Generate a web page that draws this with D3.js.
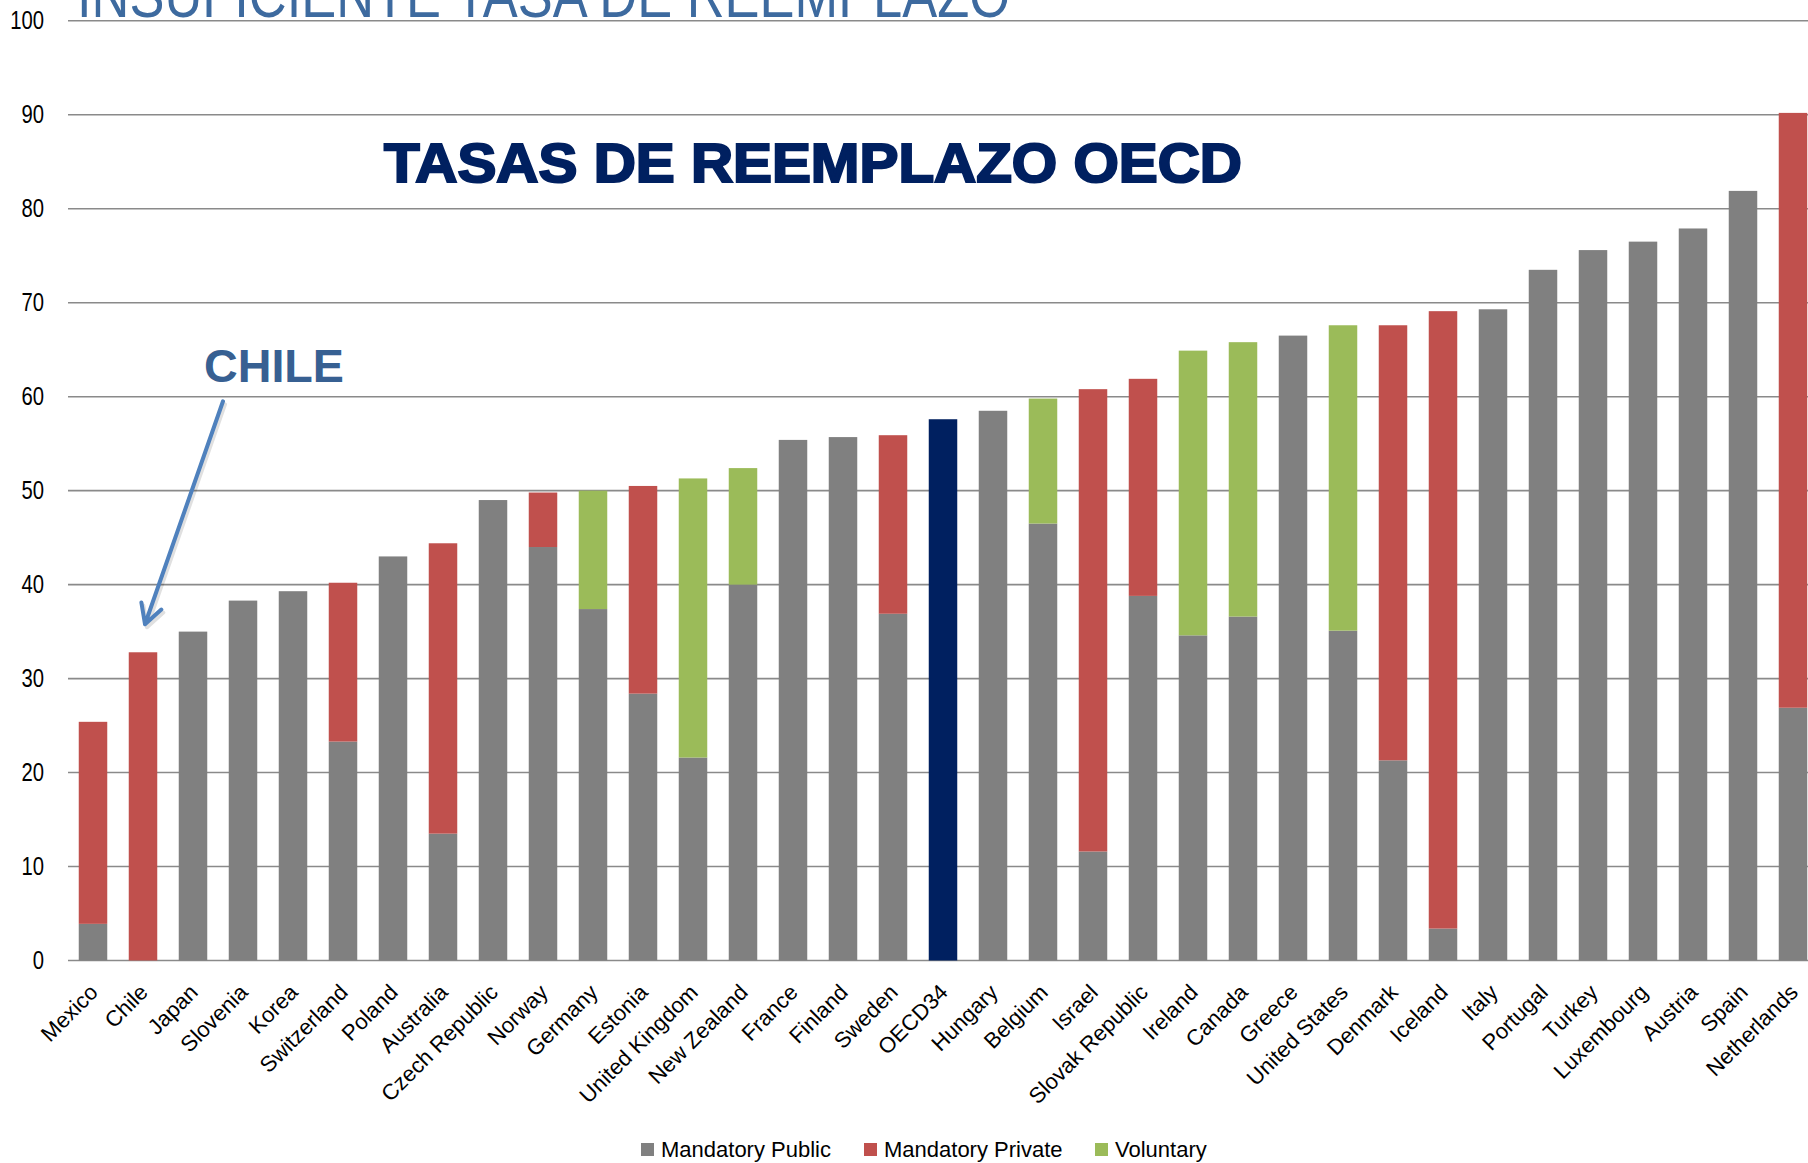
<!DOCTYPE html>
<html>
<head>
<meta charset="utf-8">
<script src="https://cdn.jsdelivr.net/npm/d3@7"></script>
<style>
  html, body { margin: 0; padding: 0; background: #fff; overflow: hidden; }
  svg { display: block; }
  text { font-family: "Liberation Sans", Arial, sans-serif; }
</style>
</head>
<body>
<script>
// ---------------- DATA ----------------
const categories = ["Mexico","Chile","Japan","Slovenia","Korea","Switzerland","Poland","Australia",
  "Czech Republic","Norway","Germany","Estonia","United Kingdom","New Zealand","France","Finland",
  "Sweden","OECD34","Hungary","Belgium","Israel","Slovak Republic","Ireland","Canada","Greece",
  "United States","Denmark","Iceland","Italy","Portugal","Turkey","Luxembourg","Austria","Spain","Netherlands"];
const mandatoryPublic = [3.9,0,35.0,38.3,39.3,23.3,43.0,13.5,49.0,44.0,37.4,28.4,21.6,40.0,55.4,55.7,
  36.9,57.6,58.5,46.5,11.6,38.8,34.6,36.6,66.5,35.1,21.3,3.4,69.3,73.5,75.6,76.5,77.9,81.9,26.9];
const mandatoryPrivate = [21.5,32.8,0,0,0,16.9,0,30.9,0,5.8,0,22.1,0,0,0,0,
  19.0,0,0,0,49.2,23.1,0,0,0,0,46.3,65.7,0,0,0,0,0,0,63.3];
const voluntary = [0,0,0,0,0,0,0,0,0,0,12.6,0,29.7,12.4,0,0,
  0,0,0,13.3,0,0,30.3,29.2,0,32.5,0,0,0,0,0,0,0,0,0];
const seriesNames = ["Mandatory Public","Mandatory Private","Voluntary"];
const yTicks = [0,10,20,30,40,50,60,70,80,90,100];
const highlightCategory = "OECD34";
const pageTitle = "INSUFICIENTE TASA DE REEMPLAZO";
const chartTitle = "TASAS DE REEMPLAZO OECD";
const annotationLabel = "CHILE";

// ---------------- STYLE ----------------
const W = 1808, H = 1163;
const colors = { "Mandatory Public": "#808080", "Mandatory Private": "#C0504D", "Voluntary": "#9BBB59" };
const highlightColor = "#002060";

const rows = categories.map((c, i) => ({
  category: c,
  "Mandatory Public": mandatoryPublic[i],
  "Mandatory Private": mandatoryPrivate[i],
  "Voluntary": voluntary[i]
}));

const svg = d3.select("body").append("svg").attr("width", W).attr("height", H);

const x = d3.scaleBand().domain(categories).range([68, 1818]).paddingInner(0.43).paddingOuter(0.215);
const y = d3.scaleLinear().domain([0, 100]).range([960.5, 20.8]);

// title (cropped at the top)
svg.append("text")
  .attr("x", 77).attr("y", 17)
  .attr("font-size", 63)
  .attr("fill", "#3D6A9F")
  .attr("textLength", 933).attr("lengthAdjust", "spacingAndGlyphs")
  .text(pageTitle);

// gridlines
svg.append("g").selectAll("line").data(yTicks).join("line")
  .attr("x1", 68).attr("x2", W)
  .attr("y1", d => y(d)).attr("y2", d => y(d))
  .attr("stroke", "#8A8A8A").attr("stroke-width", 1.6);

// y axis labels
const yAxis = d3.axisLeft(y).tickValues(yTicks).tickSize(0).tickPadding(0);
const gy = svg.append("g").attr("transform", "translate(44,0)").call(yAxis);
gy.select(".domain").remove();
gy.selectAll("text").attr("font-size", 25).attr("fill", "#000")
  .attr("font-family", "'Liberation Sans', Arial, sans-serif")
  .attr("transform", "scale(0.81,1)");

// stacked bars
const stack = d3.stack().keys(seriesNames);
const series = stack(rows);
svg.append("g").selectAll("g").data(series).join("g")
  .each(function(s) {
    d3.select(this).selectAll("rect").data(s.filter(d => d[1] - d[0] > 0)).join("rect")
      .attr("x", d => x(d.data.category))
      .attr("width", x.bandwidth())
      .attr("y", d => y(d[1]))
      .attr("height", d => y(d[0]) - y(d[1]))
      .attr("fill", d => d.data.category === highlightCategory ? highlightColor : colors[s.key]);
  });

// x axis labels
const xAxis = d3.axisBottom(x).tickSize(0).tickPadding(0);
const gx = svg.append("g").attr("transform", `translate(0,${y(0)})`).call(xAxis);
gx.select(".domain").remove();
gx.selectAll(".tick text")
  .attr("font-size", 22).attr("fill", "#000")
  .attr("font-family", "'Liberation Sans', Arial, sans-serif")
  .attr("text-anchor", "end")
  .attr("dy", "0.72em")
  .attr("y", 0)
  .attr("transform", "translate(-5,22) rotate(-45)");

// chart title
svg.append("text")
  .attr("x", 384).attr("y", 182)
  .attr("font-size", 56).attr("font-weight", "bold")
  .attr("fill", "#002060").attr("stroke", "#002060").attr("stroke-width", 2.2)
  .attr("textLength", 858).attr("lengthAdjust", "spacingAndGlyphs")
  .text(chartTitle);

// CHILE annotation
const ci = categories.indexOf("Chile");
const chileTop = y(mandatoryPublic[ci] + mandatoryPrivate[ci] + voluntary[ci]);
const tipX = x("Chile") + x.bandwidth() / 2 + 2, tipY = chileTop - 28;
const startX = tipX + 78, startY = tipY - 223;
svg.append("text")
  .attr("x", startX - 19).attr("y", startY - 19)
  .attr("font-size", 47).attr("font-weight", "bold").attr("fill", "#376092")
  .attr("textLength", 140).attr("lengthAdjust", "spacingAndGlyphs")
  .text(annotationLabel);
const ang = Math.atan2(tipY - startY, tipX - startX);
const hl = 22, ha = 0.5;
const arrowG = svg.append("g").attr("fill", "none").attr("stroke-linecap", "round").attr("stroke-linejoin", "round");
arrowG.append("path")
  .attr("d", `M${startX + 2},${startY + 3}L${tipX + 2},${tipY + 3}M${tipX + 2 - hl*Math.cos(ang-ha)},${tipY + 3 - hl*Math.sin(ang-ha)}L${tipX + 2},${tipY + 3}L${tipX + 2 - hl*Math.cos(ang+ha)},${tipY + 3 - hl*Math.sin(ang+ha)}`)
  .attr("stroke", "rgba(0,0,0,0.12)").attr("stroke-width", 4);
arrowG.append("path")
  .attr("d", `M${startX},${startY}L${tipX},${tipY}M${tipX - hl*Math.cos(ang-ha)},${tipY - hl*Math.sin(ang-ha)}L${tipX},${tipY}L${tipX - hl*Math.cos(ang+ha)},${tipY - hl*Math.sin(ang+ha)}`)
  .attr("stroke", "#4F81BD").attr("stroke-width", 4);

// legend
const legendX = [641, 864, 1095];
const lg = svg.append("g").selectAll("g").data(seriesNames).join("g")
  .attr("transform", (d, i) => `translate(${legendX[i]},1143)`);
lg.append("rect").attr("width", 13).attr("height", 13).attr("fill", d => colors[d]);
lg.append("text").attr("x", 20).attr("y", 14).attr("font-size", 22).attr("fill", "#000").text(d => d);
</script>
</body>
</html>
